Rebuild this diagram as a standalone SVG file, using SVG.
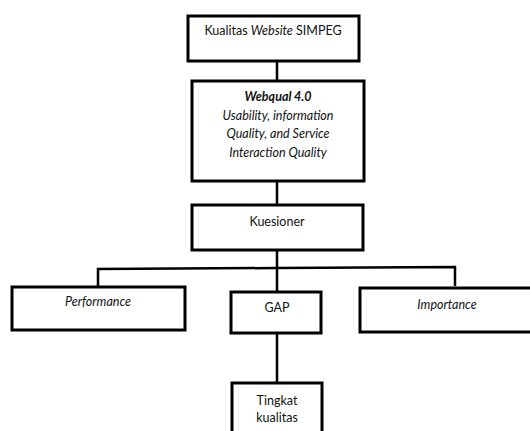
<svg xmlns="http://www.w3.org/2000/svg" width="530" height="431" viewBox="0 0 530 431">
<style>
.box{fill:#fff;stroke:#000;stroke-width:3}
.con{fill:none;stroke:#000;stroke-width:2.5}
text{font-family:Lato,"Open Sans","Liberation Sans",sans-serif;font-size:12.5px;fill:#111;text-anchor:middle}
.it{font-style:italic}
.b{font-weight:bold}
</style>
<rect width="530" height="431" fill="#fff"/>
<g id="connectors">
<line class="con" x1="277" y1="61" x2="277" y2="81"/>
<line class="con" x1="277" y1="181" x2="277" y2="205"/>
<line class="con" x1="277" y1="250" x2="277" y2="292"/>
<polyline class="con" points="98,287 98,269 277,268 455,267 455,286"/>
<line class="con" x1="277" y1="333" x2="277" y2="383"/>
</g>
<g id="n1">
<rect class="box" x="188" y="16" width="171" height="45"/>
<text x="273" y="35">Kualitas <tspan class="it">Website</tspan> SIMPEG</text>
</g>
<g id="n2">
<rect class="box" x="192" y="81" width="172" height="100"/>
<text x="278" y="101" class="it b">Webqual 4.0</text>
<text x="278" y="120" class="it">Usability, information</text>
<text x="278" y="138" class="it">Quality, and Service</text>
<text x="278" y="157" class="it">Interaction Quality</text>
</g>
<g id="n3">
<rect class="box" x="192" y="205" width="171" height="45"/>
<text x="277" y="226">Kuesioner</text>
</g>
<g id="n4">
<rect class="box" x="12" y="287" width="173" height="43"/>
<text x="98" y="306" class="it">Performance</text>
</g>
<g id="n5">
<rect class="box" x="231" y="292" width="90" height="41"/>
<text x="277" y="312">GAP</text>
</g>
<g id="n6">
<rect class="box" x="360" y="288" width="172" height="44"/>
<text x="447" y="309" class="it">Importance</text>
</g>
<g id="n7">
<rect class="box" x="232" y="383" width="90" height="52"/>
<text x="277" y="405">Tingkat</text>
<text x="277" y="422">kualitas</text>
</g>
</svg>
